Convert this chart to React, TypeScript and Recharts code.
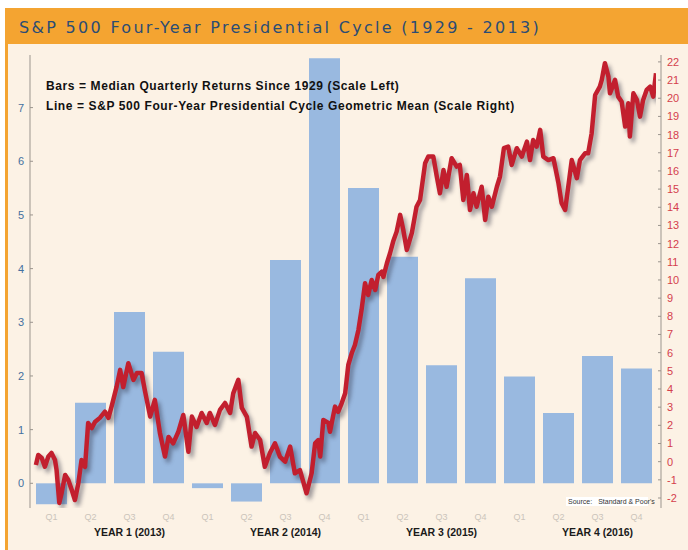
import { ComposedChart, Bar, Line, XAxis, YAxis } from "recharts";

// quarterly bars (left scale)
const quarters = ["Q1", "Q2", "Q3", "Q4", "Q1", "Q2", "Q3", "Q4", "Q1", "Q2", "Q3", "Q4", "Q1", "Q2", "Q3", "Q4"];
const medianReturns = [-0.39, 1.5, 3.19, 2.45, -0.09, -0.34, 4.16, 7.92, 5.5, 4.22, 2.2, 3.82, 1.99, 1.31, 2.37, 2.14];
const years = ["YEAR 1 (2013)", "YEAR 2 (2014)", "YEAR 3 (2015)", "YEAR 4 (2016)"];

const leftTicks = [0, 1, 2, 3, 4, 5, 6, 7];
const rightTicks = [-2, -1, 0, 1, 2, 3, 4, 5, 6, 7, 8, 9, 10, 11, 12, 13, 14, 15, 16, 17, 18, 19, 20, 21, 22];

// cycle line: position in quarters since start of year 1, and value (right scale)
const cycleT = [
  0.1, 0.16, 0.25, 0.33, 0.42, 0.5, 0.59, 0.63, 0.7, 0.76, 0.85, 0.93, 1.02, 1.1, 1.19, 1.27, 1.36, 1.44, 1.53, 1.62,
  1.74, 1.87, 1.96, 2.04, 2.17, 2.26, 2.34, 2.47, 2.6, 2.69, 2.81, 2.9, 3.03, 3.15, 3.28, 3.41, 3.5, 3.62, 3.75, 3.88,
  4.01, 4.1, 4.22, 4.35, 4.48, 4.56, 4.69, 4.82, 4.95, 5.08, 5.16, 5.29, 5.38, 5.51, 5.63, 5.72, 5.85, 5.97, 6.1, 6.23,
  6.36, 6.49, 6.62, 6.74, 6.87, 7.04, 7.17, 7.26, 7.34, 7.39, 7.47, 7.6, 7.64, 7.77, 7.85, 7.94, 8.03, 8.11, 8.2, 8.28,
  8.37, 8.45, 8.54, 8.62, 8.71, 8.8, 8.88, 8.97, 9.01, 9.1, 9.18, 9.26, 9.35, 9.44, 9.52, 9.61, 9.74, 9.86, 9.95, 10.08,
  10.16, 10.29, 10.38, 10.46, 10.55, 10.63, 10.76, 10.89, 10.97, 11.06, 11.15, 11.23, 11.32, 11.4, 11.53, 11.62, 11.7,
  11.79, 11.92, 12.0, 12.1, 12.21, 12.3, 12.43, 12.56, 12.69, 12.77, 12.85, 12.94, 13.03, 13.11, 13.24, 13.37, 13.5,
  13.58, 13.67, 13.75, 13.84, 13.97, 14.05, 14.18, 14.26, 14.35, 14.44, 14.56, 14.61, 14.69, 14.78, 14.82, 14.95,
  15.03, 15.12, 15.21, 15.29, 15.33, 15.42, 15.51, 15.59, 15.67, 15.76, 15.85, 15.93, 16.0,
];
const cycleMean = [
  -0.18, 0.37, 0.2, -0.28, 0.28, 0.48, 0.09, -0.46, -2.27, -1.72, -0.73, -1.01, -1.56, -2.11, -1.17, 0.09, -0.29, 2.13, 1.85, 2.2,
  2.41, 2.75, 2.41, 3.03, 4.13, 5.05, 4.11, 5.42, 4.5, 4.88, 4.88, 3.85, 2.48, 3.4, 1.58, 0.28, 1.36, 1.01, 1.63, 2.57,
  0.55, 2.48, 1.91, 2.68, 2.13, 2.68, 2.02, 2.85, 3.23, 2.68, 3.76, 4.5, 2.96, 2.46, 0.83, 1.58, 1.19, -0.28, 0.48, 1.01,
  0.26, 0.0, 0.83, -0.64, -0.46, -1.74, -0.64, 1.01, 1.19, 0.28, 2.29, 2.13, 1.65, 3.03, 2.74, 3.21, 3.76, 5.32, 5.98, 6.42,
  7.25, 8.35, 9.82, 9.17, 10.0, 9.45, 10.28, 10.46, 10.17, 10.92, 11.47, 12.11, 12.66, 13.58, 12.75, 11.65, 12.59, 14.03, 14.4, 16.42,
  16.79, 16.79, 15.69, 14.77, 16.05, 15.13, 16.7, 16.24, 16.33, 14.4, 15.78, 13.85, 14.77, 14.03, 15.13, 13.3, 14.58,
  14.03, 15.13, 15.69, 17.25, 17.34, 16.33, 17.25, 16.79, 17.61, 16.6, 17.7, 17.34, 18.26, 16.79, 16.6, 16.7, 15.32,
  14.22, 13.85, 15.13, 16.6, 15.6, 16.6, 16.97, 16.97, 18.07, 20.18, 20.64, 21.01, 21.93, 21.19, 20.27, 21.01,
  20.09, 19.81, 18.44, 19.72, 17.89, 20.27, 19.91, 18.99, 19.91, 20.46, 20.64, 20.09, 21.38,
];

const barData = quarters.map((q, i) => ({ q, ret: medianReturns[i] }));
const lineData = cycleT.map((t, i) => ({ t, v: cycleMean[i] }));

const AXIS = "#9b958e";
const FONT = "'Liberation Sans', Arial, sans-serif";

const LeftTick = (props: any) => {
  const { y, payload } = props;
  return (
    <g>
      <line x1={30} x2={33} y1={y} y2={y} stroke={AXIS} />
      <text x={24} y={y} dy={4} textAnchor="end" fill="#44709f" fontSize={11} fontFamily={FONT}>
        {payload.value}
      </text>
    </g>
  );
};

const RightTick = (props: any) => {
  const { y, payload } = props;
  return (
    <g>
      <line x1={658} x2={661} y1={y} y2={y} stroke={AXIS} />
      <text x={667} y={y} dy={4} textAnchor="start" fill="#d4404c" fontSize={11} fontFamily={FONT}>
        {payload.value}
      </text>
    </g>
  );
};

const QuarterTick = (props: any) => {
  const { x, payload, index } = props;
  return (
    <g>
      <text x={x} y={520} textAnchor="middle" fill="#cbc4bb" fontSize={9} fontFamily={FONT}>
        {payload.value}
      </text>
      {index % 4 === 2 && (
        <text x={x} y={536} textAnchor="middle" fill="#1a1a1a" fontSize={10.5} fontWeight="bold" fontFamily={FONT}>
          {years[Math.floor(index / 4)]}
        </text>
      )}
    </g>
  );
};

export default function App() {
  return (
    <div style={{ position: "absolute", left: 0, top: 0, width: 688, height: 550, background: "#fff", overflow: "hidden" }}>
      <style>{`.cycle-line .recharts-line-curve { filter: drop-shadow(3px 4px 2px rgba(40,40,60,0.45)); }`}</style>
      <div style={{ position: "absolute", left: 5, top: 8, right: 0, bottom: 0, background: "#f4a431" }} />
      <div style={{ position: "absolute", left: 8, top: 44, right: 0, bottom: 0, background: "#fcf2e5" }} />
      <div
        style={{
          position: "absolute",
          left: 19,
          top: 18,
          fontFamily: "'DejaVu Sans', sans-serif",
          fontSize: 16,
          letterSpacing: 2.3,
          lineHeight: "20px",
          color: "#2b4c74",
          whiteSpace: "nowrap",
        }}
      >
        S&amp;P 500 Four-Year Presidential Cycle (1929 - 2013)
      </div>
      <div style={{ position: "absolute", left: 0, top: 0 }}>
        <ComposedChart width={688} height={550} data={barData} margin={{ top: 55, right: 0, bottom: 22, left: 8 }}>
          <XAxis
            xAxisId="q"
            dataKey="q"
            interval={0}
            axisLine={false}
            tickLine={false}
            height={20}
            padding={{ left: 2, right: 5 }}
            tick={QuarterTick}
          />
          <XAxis xAxisId="t" dataKey="t" type="number" domain={[0, 16]} allowDataOverflow hide padding={{ left: 2, right: 5 }} />
          <YAxis
            yAxisId="l"
            width={22}
            domain={[-0.46, 7.98]}
            allowDataOverflow
            ticks={leftTicks}
            interval={0}
            axisLine={{ stroke: AXIS }}
            tickLine={false}
            tick={LeftTick}
          />
          <YAxis
            yAxisId="r"
            orientation="right"
            width={27}
            domain={[-2.55, 22.38]}
            allowDataOverflow
            ticks={rightTicks}
            interval={0}
            axisLine={{ stroke: AXIS }}
            tickLine={false}
            tick={RightTick}
          />
          <Bar xAxisId="q" yAxisId="l" dataKey="ret" fill="#99b9e0" barSize={31} isAnimationActive={false} />
          <Line
            className="cycle-line"
            xAxisId="t"
            yAxisId="r"
            data={lineData}
            dataKey="v"
            type="linear"
            stroke="#c21f2e"
            strokeWidth={4.5}
            strokeLinejoin="round"
            dot={false}
            activeDot={false}
            isAnimationActive={false}
          />
        </ComposedChart>
      </div>
      <div
        style={{
          position: "absolute",
          left: 46,
          top: 76,
          fontFamily: FONT,
          fontWeight: "bold",
          fontSize: 12,
          letterSpacing: 0.6,
          lineHeight: "20px",
          color: "#111",
          whiteSpace: "nowrap",
        }}
      >
        <div>Bars = Median Quarterly Returns Since 1929 (Scale Left)</div>
        <div>Line = S&amp;P 500 Four-Year Presidential Cycle Geometric Mean (Scale Right)</div>
      </div>
      <div
        style={{
          position: "absolute",
          left: 566,
          top: 497,
          width: 82,
          height: 9,
          background: "#fff",
          fontFamily: FONT,
          fontSize: 7,
          lineHeight: "9px",
          color: "#333",
          whiteSpace: "nowrap",
        }}
      >
        <span style={{ marginLeft: 2 }}>Source:</span>
        <span style={{ marginLeft: 6 }}>Standard &amp; Poor's</span>
      </div>
    </div>
  );
}
